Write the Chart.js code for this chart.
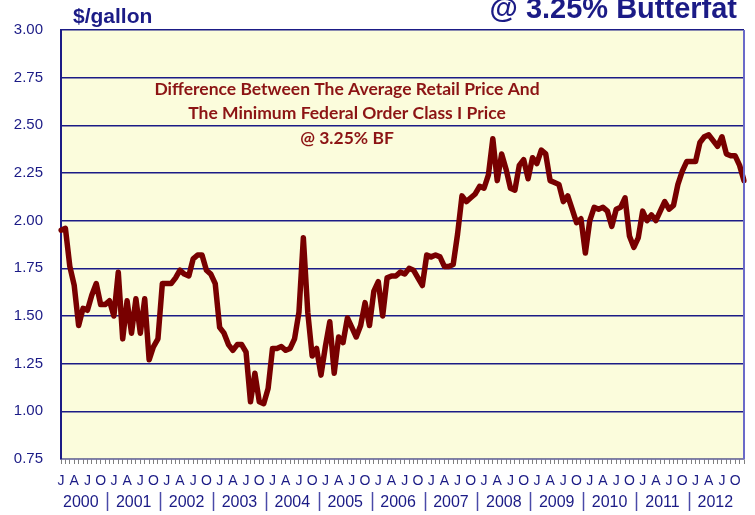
<!DOCTYPE html>
<html>
<head>
<meta charset="utf-8">
<script src="https://cdn.jsdelivr.net/npm/chart.js@4"></script>
<style>
  body { margin: 0; background: #fff; }
  #wrap { width: 755px; height: 515px; }
</style>
</head>
<body>
<div id="wrap"><canvas id="priceChart" width="755" height="515"></canvas></div>
<script>
// Valores mensais ($/gallon), Jan..Dec de cada ano
const years = [2000, 2001, 2002, 2003, 2004, 2005, 2006, 2007, 2008, 2009, 2010, 2011, 2012];
const quarterLetters = ['J', 'A', 'J', 'O'];
const yTickValues = [0.75, 1.00, 1.25, 1.50, 1.75, 2.00, 2.25, 2.50, 2.75, 3.00];

const diff2000 = [1.95, 1.96, 1.76, 1.66, 1.45, 1.54, 1.53, 1.61, 1.67, 1.56, 1.56, 1.58];
const diff2001 = [1.50, 1.73, 1.38, 1.58, 1.41, 1.59, 1.41, 1.59, 1.27, 1.34, 1.38, 1.67];
const diff2002 = [1.67, 1.67, 1.70, 1.74, 1.72, 1.71, 1.80, 1.82, 1.82, 1.74, 1.72, 1.67];
const diff2003 = [1.44, 1.41, 1.35, 1.32, 1.35, 1.35, 1.31, 1.05, 1.20, 1.05, 1.04, 1.12];
const diff2004 = [1.33, 1.33, 1.34, 1.32, 1.33, 1.38, 1.52, 1.91, 1.52, 1.29, 1.33, 1.19];
const diff2005 = [1.34, 1.47, 1.20, 1.39, 1.36, 1.49, 1.44, 1.39, 1.45, 1.57, 1.45, 1.63];
const diff2006 = [1.68, 1.50, 1.70, 1.71, 1.71, 1.73, 1.72, 1.75, 1.74, 1.70, 1.66, 1.82];
const diff2007 = [1.81, 1.82, 1.81, 1.76, 1.76, 1.77, 1.93, 2.13, 2.10, 2.12, 2.14, 2.18];
const diff2008 = [2.17, 2.24, 2.43, 2.21, 2.35, 2.27, 2.17, 2.16, 2.29, 2.32, 2.22, 2.33];
const diff2009 = [2.30, 2.37, 2.35, 2.21, 2.20, 2.19, 2.10, 2.13, 2.06, 1.99, 2.01, 1.83];
const diff2010 = [2.00, 2.07, 2.06, 2.07, 2.05, 1.97, 2.06, 2.07, 2.12, 1.92, 1.86, 1.91];
const diff2011 = [2.05, 2.00, 2.03, 2.00, 2.05, 2.10, 2.06, 2.08, 2.19, 2.26, 2.31, 2.31];
const diff2012 = [2.31, 2.41, 2.44, 2.45, 2.42, 2.39, 2.44, 2.35, 2.34, 2.34, 2.29, 2.21];

const allValues = [].concat(diff2000, diff2001, diff2002, diff2003, diff2004, diff2005, diff2006,
                            diff2007, diff2008, diff2009, diff2010, diff2011, diff2012);

// rótulos de mês: letra só nos trimestres
const monthLabels = allValues.map(function(v, i) {
    return (i % 3 === 0) ? quarterLetters[(i % 12) / 3] : '';
});

const navy = '#1b1b86';
const plotBg = '#fbfcdc';

// fundo amarelo da área do gráfico + borda direita
const plotAreaPlugin = {
    id: 'plotArea',
    beforeDraw: function(chart) {
        const a = chart.chartArea;
        const ctx = chart.ctx;
        ctx.save();
        ctx.fillStyle = plotBg;
        ctx.fillRect(a.left, a.top, a.right - a.left, a.bottom - a.top);
        ctx.restore();
    },
    afterDraw: function(chart) {
        const a = chart.chartArea;
        const ctx = chart.ctx;
        const x = chart.scales.x;
        ctx.save();
        ctx.strokeStyle = '#6a6ac8';
        ctx.lineWidth = 2;
        ctx.beginPath();
        ctx.moveTo(a.right, a.top);
        ctx.lineTo(a.right, a.bottom);
        ctx.stroke();

        // anos e separadores
        ctx.fillStyle = navy;
        ctx.font = '16px Arial, "Liberation Sans", sans-serif';
        ctx.textAlign = 'center';
        ctx.textBaseline = 'alphabetic';
        years.forEach(function(yr, i) {
            ctx.fillText(String(yr), x.getPixelForValue(i * 12 + 4.5), 507);
            if (i < years.length - 1) {
                const sx = Math.round(x.getPixelForValue(i * 12 + 10.5)) + 0.5;
                ctx.strokeStyle = '#4a4aa8';
                ctx.lineWidth = 1.5;
                ctx.beginPath();
                ctx.moveTo(sx, 492);
                ctx.lineTo(sx, 511);
                ctx.stroke();
            }
        });

        // títulos
        ctx.font = 'bold 21px Arial, "Liberation Sans", sans-serif';
        ctx.textAlign = 'left';
        ctx.fillText('$/gallon', 73, 23);
        ctx.font = 'bold 29px Arial, "Liberation Sans", sans-serif';
        ctx.textAlign = 'right';
        ctx.fillText('@ 3.25% Butterfat', 737, 18);

        // nota dentro do gráfico
        ctx.fillStyle = '#8c1414';
        ctx.font = 'bold 17.5px Lato, "Open Sans", sans-serif';
        ctx.textAlign = 'center';
        ctx.fillText('Difference Between The Average Retail Price And', 347, 95);
        ctx.fillText('The Minimum Federal Order Class I Price', 347, 119);
        ctx.fillText('@ 3.25% BF', 347, 144);
        ctx.restore();
    }
};

const ctx = document.getElementById('priceChart').getContext('2d');
const priceChart = new Chart(ctx, {
    type: 'line',
    data: {
        labels: monthLabels,
        datasets: [{
            label: 'Difference',
            data: allValues,
            borderColor: '#780000',
            borderWidth: 5.5,
            borderJoinStyle: 'round',
            borderCapStyle: 'round',
            pointRadius: 0,
            tension: 0,
            fill: false
        }]
    },
    options: {
        responsive: false,
        animation: false,
        layout: {
            padding: { top: 30, right: 11, left: 0, bottom: 0 }
        },
        plugins: {
            legend: { display: false },
            tooltip: { enabled: false }
        },
        scales: {
            x: {
                type: 'category',
                offset: false,
                afterFit: function(scale) { scale.height = 56; },
                grid: {
                    display: true,
                    drawOnChartArea: false,
                    tickLength: 5,
                    color: '#808080',
                    lineWidth: 1
                },
                border: { display: true, color: '#8080a0', width: 1.5 },
                ticks: {
                    autoSkip: false,
                    maxRotation: 0,
                    minRotation: 0,
                    padding: 9,
                    color: navy,
                    font: { family: 'Arial, "Liberation Sans", sans-serif', size: 14 }
                }
            },
            y: {
                min: 0.75,
                max: 3.0,
                afterFit: function(scale) { scale.width = 61; },
                afterBuildTicks: function(axis) {
                    axis.ticks = yTickValues.map(function(v) { return { value: v }; });
                },
                grid: {
                    color: navy,
                    lineWidth: 1.5,
                    drawTicks: false
                },
                border: { display: true, color: navy, width: 2 },
                ticks: {
                    padding: 18,
                    color: navy,
                    font: { family: 'Arial, "Liberation Sans", sans-serif', size: 15 },
                    callback: function(v) { return Number(v).toFixed(2); }
                }
            }
        }
    },
    plugins: [plotAreaPlugin]
});
</script>
</body>
</html>
